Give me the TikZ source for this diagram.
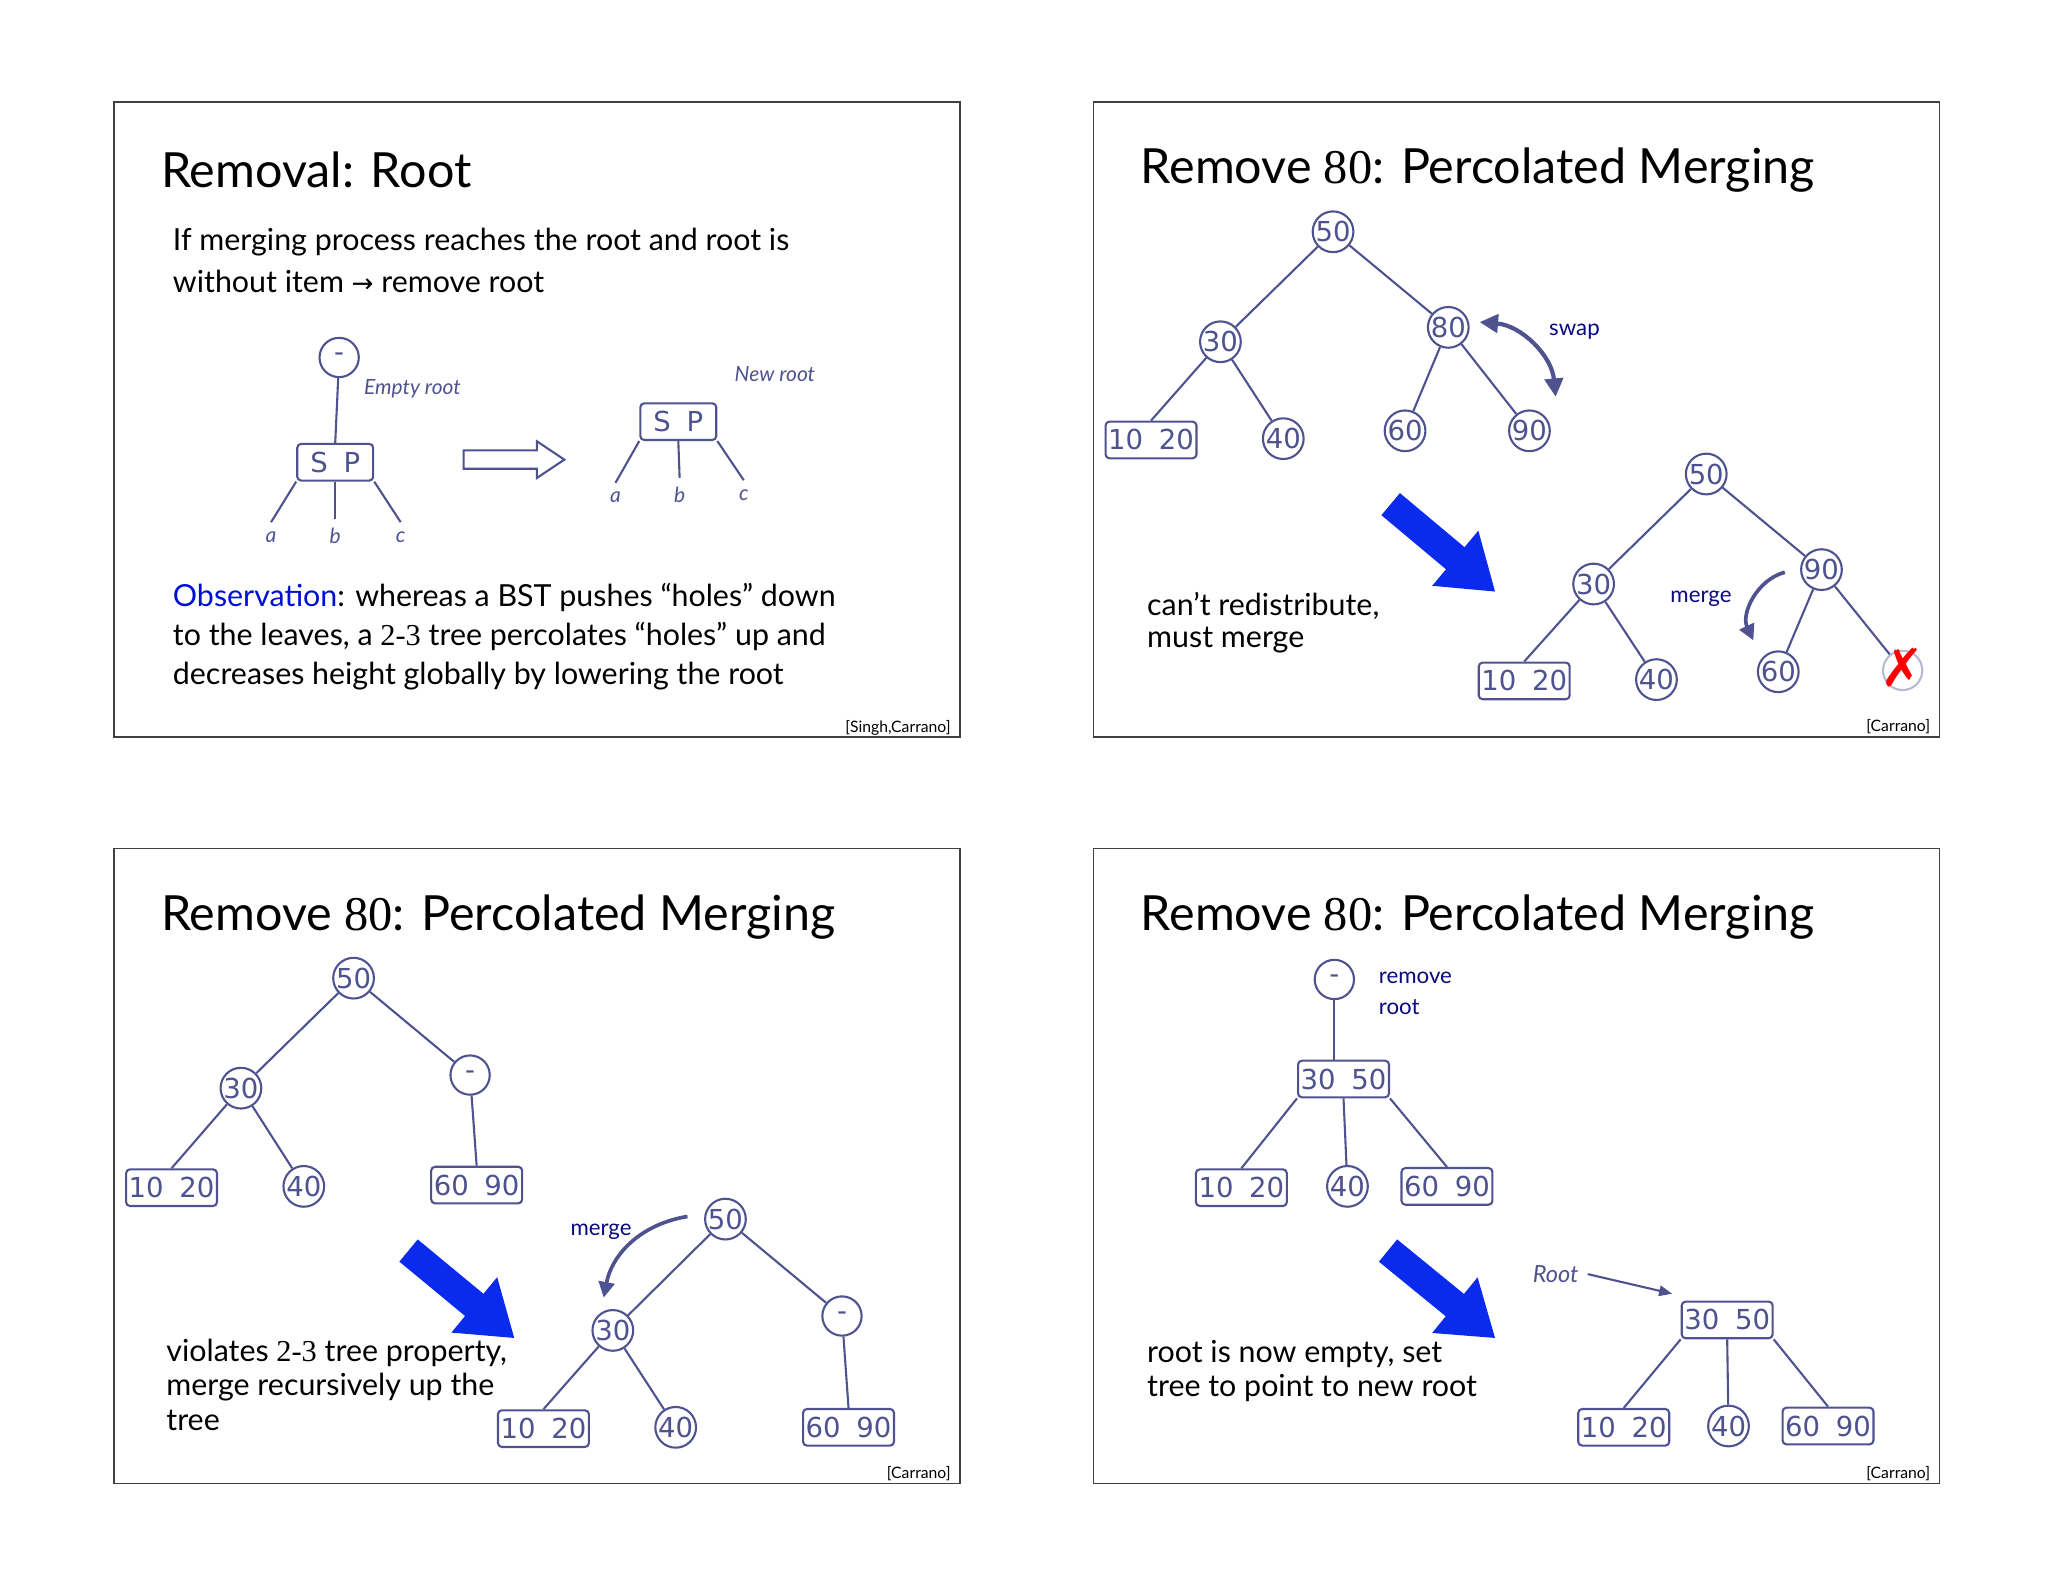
\documentclass[tikz,border=0pt]{standalone}
\usepackage{fontspec}
\setmainfont{Lato}
\newfontfamily\dvs{DejaVu Sans}
\newfontfamily\srf{Liberation Serif}
\usetikzlibrary{arrows.meta}
\definecolor{treec}{HTML}{4E5390}
\definecolor{bigblue}{HTML}{0A2BEE}
\definecolor{obsblue}{HTML}{0010D0}
\definecolor{navy}{HTML}{0A0A80}
\tikzset{
 x=0.5pt,y=-0.5pt,
 cn/.style={circle,draw=treec,line width=0.8pt,inner sep=0pt,minimum size=15pt,text=treec,font=\dvs\fontsize{10.5}{10}\selectfont},
 bx/.style={rectangle,rounded corners=1.5pt,draw=treec,line width=0.8pt,inner sep=1pt,minimum width=31pt,minimum height=14pt,text=treec,font=\dvs\fontsize{10.5}{10}\selectfont},
 ed/.style={draw=treec,line width=0.8pt},
 frame/.style={draw=black!75,line width=0.6pt},
 ttl/.style={anchor=west,font=\fontsize{18.5}{22}\selectfont},
 body/.style={anchor=west,font=\fontsize{11.6}{14}\selectfont},
 lbl/.style={text=treec,font=\itshape\fontsize{8}{9}\selectfont},
 small/.style={font=\fontsize{8.5}{10}\selectfont},
 cite/.style={anchor=east,font=\fontsize{6}{7}\selectfont},
 bigarrow/.style={bigblue,line width=11pt,-{Triangle[length=20pt,width=26pt]}},
 carrow/.style={treec,line width=1.4pt,-{Triangle[length=6pt,width=6pt]}},
}
\begin{document}
\begin{tikzpicture}
\useasboundingbox (0,0) rectangle (1564,1208);
\fill[white] (0,0) rectangle (1564,1208);
% ---------- Panel 1
\draw[frame] (87,78) rectangle (733,563);
\node[ttl] (t1) at (116,130) {Removal: Root};
\node[body] (p1a) at (125,185) {If merging process reaches the root and root is};
\node[body] (p1b) at (125,215) {without item {\dvs\fontsize{10}{10}\selectfont →} remove root};
\node[cn] (r1) at (259,273) {-};
\node[bx,minimum width=29pt] (sp1) at (256,353) {S\hspace{6pt}P};
\node[lbl] (a1) at (207,410) {a};
\node[lbl] (b1) at (256,409) {b};
\node[lbl] (c1) at (306,410) {c};
\node[lbl,anchor=west] (er) at (271,297) {Empty root};
\draw[ed] (r1) -- (sp1.north);
\draw[ed] (sp1.south west) -- (a1.north);
\draw[ed] (sp1.south) -- (b1.north);
\draw[ed] (sp1.south east) -- (c1.north);
\draw[treec,line width=0.8pt] (354,344) -- (410,344) -- (410,337) -- (431,351) -- (410,365) -- (410,358) -- (354,358) -- cycle;
\node[bx,minimum width=29pt] (sp2) at (518,322) {S\hspace{6pt}P};
\node[lbl] (a2) at (470,380) {a};
\node[lbl] (b2) at (519,378) {b};
\node[lbl] (c2) at (568,378) {c};
\node[lbl,anchor=west] (nr) at (554,286) {New root};
\draw[ed] (sp2.south west) -- (a2.north);
\draw[ed] (sp2.south) -- (b2.north);
\draw[ed] (sp2.south east) -- (c2.north);
\node[body] (o1) at (125,456) {{\color{obsblue}Observation}: whereas a BST pushes “holes” down};
\node[body] (o2) at (125,486) {to the leaves, a {\srf 2-3} tree percolates “holes” up and};
\node[body] (o3) at (125,516) {decreases height globally by lowering the root};
\node[cite] (c1x) at (733,556) {[Singh,Carrano]};
% ---------- Panel 2
\draw[frame] (835,78) rectangle (1481,563);
\node[ttl] (t2) at (864,130) {Remove {\srf 80}: Percolated Merging};
\node[cn] (n50) at (1018,177) {50};
\node[cn] (n30) at (932,261) {30};
\node[cn] (n80) at (1106,250) {80};
\node[bx] (n1020) at (879,336) {10\hspace{6pt}20};
\node[cn] (n40) at (980,335) {40};
\node[cn] (n60) at (1073,329) {60};
\node[cn] (n90) at (1168,329) {90};
\draw[ed] (n50) -- (n30); \draw[ed] (n50) -- (n80);
\draw[ed] (n30) -- (n1020.north); \draw[ed] (n30) -- (n40);
\draw[ed] (n80) -- (n60); \draw[ed] (n80) -- (n90);
\coordinate (sw1) at (1130,246); \coordinate (sw2) at (1188,303);
\draw[treec,line width=1.6pt,{Triangle[length=7pt,width=7pt]}-{Triangle[length=7pt,width=7pt]}] (sw1) to[bend left=40] (sw2);
\node[small,text=navy,anchor=west] (swp) at (1176,253) {swap};
\coordinate (ba1) at (1062,385); \coordinate (ba2) at (1142,452);
\draw[bigarrow] (ba1) -- (ba2);
\node[body] (cr1) at (869,463) {can’t redistribute,};
\node[body] (cr2) at (869,489) {must merge};
\node[cn] (m50) at (1303,362) {50};
\node[cn] (m30) at (1217,446) {30};
\node[cn] (m90) at (1391,435) {90};
\node[bx] (m1020) at (1164,520) {10\hspace{6pt}20};
\node[cn] (m40) at (1265,519) {40};
\node[cn] (m60) at (1358,513) {60};
\node[cn,draw=treec!40] (mx) at (1453,512) {};
\node[text=red,font=\dvs\bfseries\fontsize{20}{20}\selectfont] (xx) at (1453,510) {✗};
\draw[ed] (m50) -- (m30); \draw[ed] (m50) -- (m90);
\draw[ed] (m30) -- (m1020.north); \draw[ed] (m30) -- (m40);
\draw[ed] (m90) -- (m60); \draw[ed] (m90) -- (mx);
\coordinate (mg1) at (1363,437); \coordinate (mg2) at (1339,489);
\draw[carrow] (mg1) to[bend right=50] (mg2);
\node[small,text=navy] (mgl) at (1299,457) {merge};
\node[cite] (c2x) at (1481,555) {[Carrano]};
% ---------- Panel 3
\draw[frame] (87,648) rectangle (733,1133);
\node[ttl] (t3) at (116,700) {Remove {\srf 80}: Percolated Merging};
\node[cn] (q50) at (270,747) {50};
\node[cn] (q30) at (184,831) {30};
\node[cn] (qe) at (359,821) {-};
\node[bx] (q1020) at (131,907) {10\hspace{6pt}20};
\node[cn] (q40) at (232,906) {40};
\node[bx] (q6090) at (364,905) {60\hspace{6pt}90};
\draw[ed] (q50) -- (q30); \draw[ed] (q50) -- (qe);
\draw[ed] (q30) -- (q1020.north); \draw[ed] (q30) -- (q40);
\draw[ed] (qe) -- (q6090.north);
\coordinate (bb1) at (312,955); \coordinate (bb2) at (393,1022);
\draw[bigarrow] (bb1) -- (bb2);
\node[body] (v1) at (120,1033) {violates {\srf 2-3} tree property,};
\node[body] (v2) at (120,1059) {merge recursively up the};
\node[body] (v3) at (120,1085) {tree};
\node[cn] (s50) at (554,931) {50};
\node[cn] (s30) at (468,1016) {30};
\node[cn] (se) at (643,1005) {-};
\node[bx] (s1020) at (415,1091) {10\hspace{6pt}20};
\node[cn] (s40) at (516,1090) {40};
\node[bx] (s6090) at (648,1090) {60\hspace{6pt}90};
\draw[ed] (s50) -- (s30); \draw[ed] (s50) -- (se);
\draw[ed] (s30) -- (s1020.north); \draw[ed] (s30) -- (s40);
\draw[ed] (se) -- (s6090.north);
\coordinate (mh1) at (525,929); \coordinate (mh2) at (461,991);
\draw[carrow] (mh1) to[bend right=35] (mh2);
\node[small,text=navy] (mhl) at (459,941) {merge};
\node[cite] (c3x) at (733,1125) {[Carrano]};
% ---------- Panel 4
\draw[frame] (835,648) rectangle (1481,1133);
\node[ttl] (t4) at (864,700) {Remove {\srf 80}: Percolated Merging};
\node[cn] (u0) at (1019,748) {-};
\node[bx] (u3050) at (1026,824) {30\hspace{6pt}50};
\node[bx] (u1020) at (948,907) {10\hspace{6pt}20};
\node[cn] (u40) at (1029,906) {40};
\node[bx] (u6090) at (1105,906) {60\hspace{6pt}90};
\draw[ed] (u0) -- (u3050.north -| u0);
\draw[ed] (u3050.south west) -- (u1020.north);
\draw[ed] (u3050.south) -- (u40);
\draw[ed] (u3050.south east) -- (u6090.north);
\node[small,text=navy,anchor=west] (rr1) at (1046,747) {remove};
\node[small,text=navy,anchor=west] (rr2) at (1046,769) {root};
\coordinate (bc1) at (1060,955); \coordinate (bc2) at (1142,1022);
\draw[bigarrow] (bc1) -- (bc2);
\node[body] (w1) at (869,1034) {root is now empty, set};
\node[body] (w2) at (869,1060) {tree to point to new root};
\node[lbl,font=\itshape\fontsize{9}{10}\selectfont] (rt) at (1188,973) {Root};
\node[bx] (v3050) at (1319,1008) {30\hspace{6pt}50};
\node[bx] (v1020) at (1240,1090) {10\hspace{6pt}20};
\node[cn] (v40) at (1320,1089) {40};
\node[bx] (v6090) at (1396,1089) {60\hspace{6pt}90};
\draw[ed] (v3050.south west) -- (v1020.north);
\draw[ed] (v3050.south) -- (v40);
\draw[ed] (v3050.south east) -- (v6090.north);
\coordinate (rt2) at (1277,988);
\draw[treec,line width=0.8pt,-{Triangle[length=5pt,width=4pt]}] (rt.east) -- (rt2);
\node[cite] (c4x) at (1481,1125) {[Carrano]};
\end{tikzpicture}
\end{document}
